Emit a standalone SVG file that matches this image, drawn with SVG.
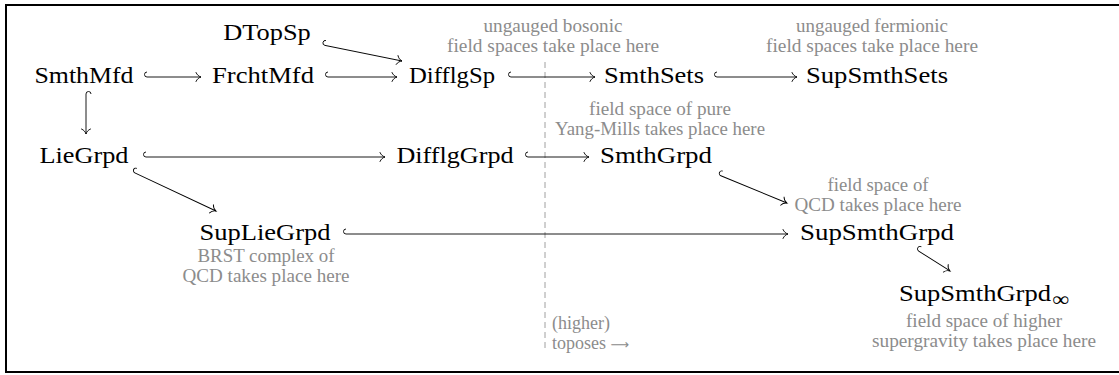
<svg xmlns="http://www.w3.org/2000/svg" width="1119" height="375" viewBox="0 0 1119 375">
<defs>
<style>
text{font-family:'Liberation Serif','DejaVu Serif','Noto Serif',serif}
.n{font-size:24px;fill:#000;text-anchor:middle}
.g{font-size:18px;fill:#8c8c8c;text-anchor:middle}
.conn{fill:none;stroke:#000;stroke-width:0.9;marker-end:url(#to)}
</style>
<marker id="to" viewBox="-7 -6 9 12" refX="0" refY="0" markerWidth="9" markerHeight="12" markerUnits="userSpaceOnUse" orient="auto" overflow="visible">
<path d="M-5,-4.5 C-4,-2 -2,-0.6 0,0 C-2,0.6 -4,2 -5,4.5" fill="none" stroke="#000" stroke-width="0.9" stroke-linecap="round"/>
</marker>
</defs>
<rect x="6" y="5" width="1125" height="367" fill="#fff" stroke="#000" stroke-width="2"/>
<line x1="545" y1="62" x2="545" y2="350" stroke="#a0a0a0" stroke-width="1" stroke-dasharray="6,4"/>

<g id="connectors">
<path class="conn" transform="translate(323,45) rotate(11.45)" d="M2,-5 A2.5,2.5 0 0 0 2,0 L80.6,0"/>
<path class="conn" transform="translate(145,77)" d="M2,-5 A2.5,2.5 0 0 0 2,0 L56,0"/>
<path class="conn" transform="translate(326,77)" d="M2,-5 A2.5,2.5 0 0 0 2,0 L71,0"/>
<path class="conn" transform="translate(509,77)" d="M2,-5 A2.5,2.5 0 0 0 2,0 L86,0"/>
<path class="conn" transform="translate(715,77)" d="M2,-5 A2.5,2.5 0 0 0 2,0 L82,0"/>
<path class="conn" transform="translate(86,92) rotate(90)" d="M2,-5 A2.5,2.5 0 0 0 2,0 L42,0"/>
<path class="conn" transform="translate(144,157)" d="M2,-5 A2.5,2.5 0 0 0 2,0 L241,0"/>
<path class="conn" transform="translate(526,157)" d="M2,-5 A2.5,2.5 0 0 0 2,0 L63,0"/>
<path class="conn" transform="translate(133,172) rotate(25.17)" d="M2,-5 A2.5,2.5 0 0 0 2,0 L91.7,0"/>
<path class="conn" transform="translate(719,175) rotate(22.38)" d="M2,-5 A2.5,2.5 0 0 0 2,0 L73.5,0"/>
<path class="conn" transform="translate(344,234)" d="M2,-5 A2.5,2.5 0 0 0 2,0 L444,0"/>
<path class="conn" transform="translate(917,250) rotate(32.47)" d="M2,-5 A2.5,2.5 0 0 0 2,0 L39.1,0"/>
</g>

<g id="DTopSp"><text class="n" x="267" y="40" textLength="87.5" lengthAdjust="spacingAndGlyphs">DTopSp</text></g>
<g id="SmthMfd"><text class="n" x="84" y="83" textLength="99" lengthAdjust="spacingAndGlyphs">SmthMfd</text></g>
<g id="FrchtMfd"><text class="n" x="263" y="83" textLength="102" lengthAdjust="spacingAndGlyphs">FrchtMfd</text></g>
<g id="DifflgSp"><text class="n" x="452" y="83" textLength="86" lengthAdjust="spacingAndGlyphs">DifflgSp</text></g>
<g id="SmthSets"><text class="n" x="654" y="83" textLength="100" lengthAdjust="spacingAndGlyphs">SmthSets</text></g>
<g id="SupSmthSets"><text class="n" x="877" y="83" textLength="142" lengthAdjust="spacingAndGlyphs">SupSmthSets</text></g>
<g id="LieGrpd"><text class="n" x="84" y="163" textLength="89" lengthAdjust="spacingAndGlyphs">LieGrpd</text></g>
<g id="DifflgGrpd"><text class="n" x="455" y="163" textLength="117" lengthAdjust="spacingAndGlyphs">DifflgGrpd</text></g>
<g id="SmthGrpd"><text class="n" x="656" y="163" textLength="112" lengthAdjust="spacingAndGlyphs">SmthGrpd</text></g>
<g id="SupLieGrpd"><text class="n" x="265" y="240" textLength="131" lengthAdjust="spacingAndGlyphs">SupLieGrpd</text></g>
<g id="SupSmthGrpd"><text class="n" x="877" y="240" textLength="154" lengthAdjust="spacingAndGlyphs">SupSmthGrpd</text></g>
<g id="SupSmthGrpdInf"><text class="n" x="899" y="301" style="text-anchor:start" textLength="152" lengthAdjust="spacingAndGlyphs">SupSmthGrpd</text><text class="n" x="1052" y="306" style="text-anchor:start;font-size:20px" textLength="17" lengthAdjust="spacingAndGlyphs">∞</text></g>

<g id="label-bosonic"><text class="g" x="553" y="32" textLength="139" lengthAdjust="spacingAndGlyphs">ungauged bosonic</text><text class="g" x="553" y="52" textLength="212" lengthAdjust="spacingAndGlyphs">field spaces take place here</text></g>
<g id="label-fermionic"><text class="g" x="872" y="32" textLength="152" lengthAdjust="spacingAndGlyphs">ungauged fermionic</text><text class="g" x="872" y="52" textLength="212" lengthAdjust="spacingAndGlyphs">field spaces take place here</text></g>
<g id="label-ym"><text class="g" x="660" y="115" textLength="142" lengthAdjust="spacingAndGlyphs">field space of pure</text><text class="g" x="660" y="135" textLength="210" lengthAdjust="spacingAndGlyphs">Yang-Mills takes place here</text></g>
<g id="label-qcd"><text class="g" x="878" y="191" textLength="101" lengthAdjust="spacingAndGlyphs">field space of</text><text class="g" x="878" y="211" textLength="167" lengthAdjust="spacingAndGlyphs">QCD takes place here</text></g>
<g id="label-brst"><text class="g" x="266" y="262" textLength="137" lengthAdjust="spacingAndGlyphs">BRST complex of</text><text class="g" x="266" y="282" textLength="167" lengthAdjust="spacingAndGlyphs">QCD takes place here</text></g>
<g id="label-sugra"><text class="g" x="984" y="327" textLength="156" lengthAdjust="spacingAndGlyphs">field space of higher</text><text class="g" x="984" y="347" textLength="224" lengthAdjust="spacingAndGlyphs">supergravity takes place here</text></g>
<g id="label-toposes"><text class="g" x="552" y="329" style="text-anchor:start">(higher)</text><text class="g" x="552" y="349" style="text-anchor:start">toposes <tspan style="font-family:'DejaVu Sans',sans-serif;font-size:13px">⟶</tspan></text></g>
</svg>
